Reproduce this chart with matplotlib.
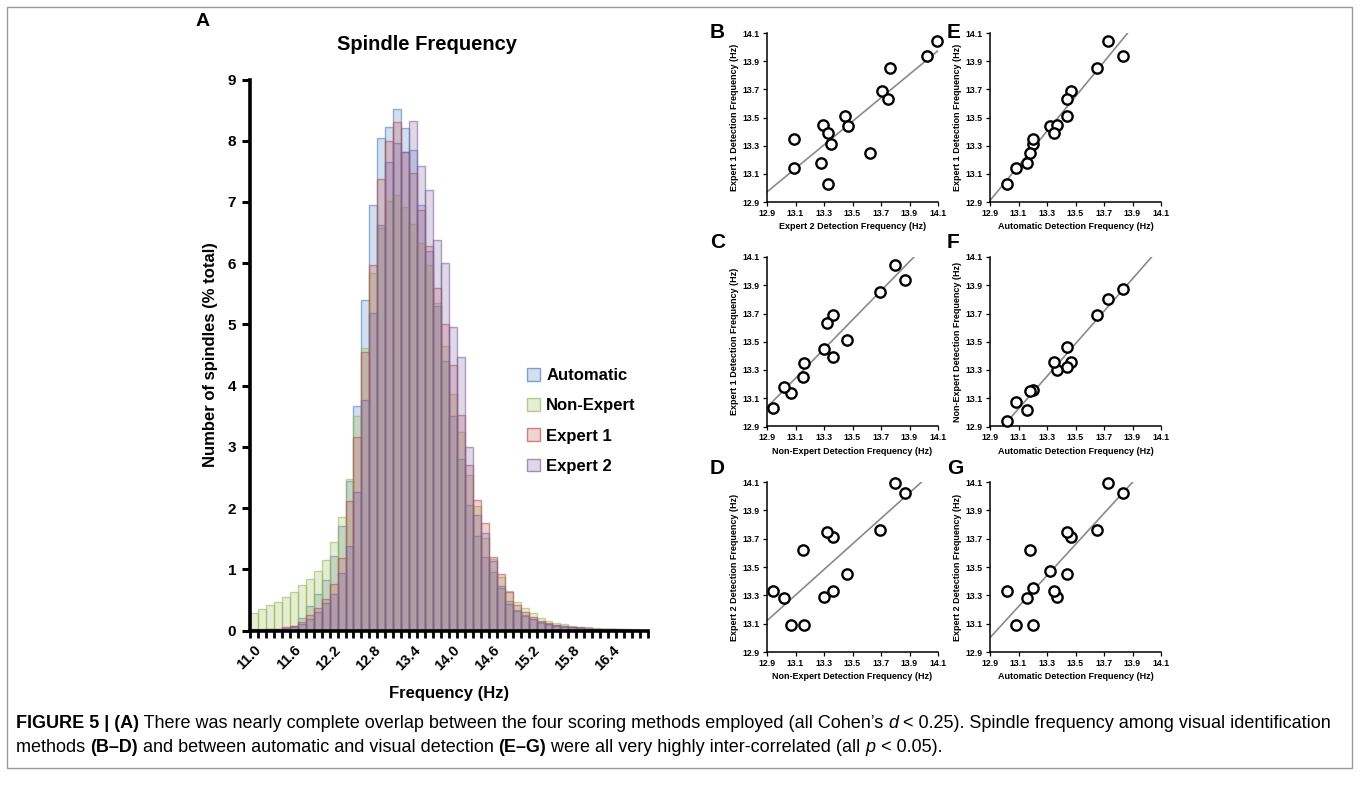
import matplotlib.pyplot as plt
from matplotlib.colors import to_rgba
from matplotlib.patches import Patch, Rectangle
import numpy as np

plt.rcParams['font.family'] = ['Liberation Sans', 'DejaVu Sans']

# ---- panel A: spindle frequency histogram (% of spindles per 0.12 Hz bin) ----
bin_start = 11.0
bin_width = 0.12
hist_labels = ['Automatic', 'Non-Expert', 'Expert 1', 'Expert 2']
hist_automatic = [0.01, 0.01, 0.02, 0.02, 0.03, 0.08, 0.20, 0.40, 0.60, 0.83,
                  1.22, 1.71, 2.44, 3.66, 5.40, 6.95, 8.04, 8.23, 8.52, 8.20,
                  7.85, 6.95, 6.20, 5.30, 4.40, 3.50, 2.80, 2.05, 1.55, 1.20,
                  0.95, 0.70, 0.48, 0.34, 0.25, 0.18, 0.13, 0.10, 0.08, 0.06,
                  0.05, 0.04, 0.03, 0.03, 0.02, 0.02, 0.01, 0.01, 0.01, 0.00]
hist_non_expert = [0.29, 0.35, 0.42, 0.47, 0.54, 0.63, 0.74, 0.84, 0.97, 1.15,
                   1.45, 1.86, 2.48, 3.50, 4.61, 5.84, 6.57, 7.01, 7.12, 6.91,
                   6.64, 6.33, 5.97, 5.35, 4.65, 3.86, 3.25, 2.54, 2.03, 1.51,
                   1.17, 0.87, 0.65, 0.47, 0.36, 0.28, 0.21, 0.16, 0.12, 0.10,
                   0.08, 0.06, 0.05, 0.04, 0.03, 0.03, 0.02, 0.02, 0.01, 0.01]
hist_expert1 = [0.02, 0.02, 0.03, 0.03, 0.05, 0.08, 0.14, 0.25, 0.36, 0.52,
                0.76, 1.18, 2.11, 3.16, 4.55, 5.97, 7.37, 8.00, 8.31, 7.82,
                7.47, 6.87, 6.28, 5.59, 5.00, 4.34, 3.52, 2.70, 2.13, 1.75,
                1.20, 0.93, 0.63, 0.42, 0.30, 0.22, 0.16, 0.12, 0.09, 0.07,
                0.05, 0.04, 0.03, 0.03, 0.02, 0.02, 0.01, 0.01, 0.01, 0.00]
hist_expert2 = [0.01, 0.01, 0.02, 0.03, 0.04, 0.06, 0.10, 0.18, 0.30, 0.45,
                0.60, 0.94, 1.38, 2.27, 3.77, 5.18, 6.63, 7.66, 7.96, 7.82,
                8.32, 7.59, 7.19, 6.38, 6.01, 4.95, 4.47, 2.99, 1.89, 1.60,
                1.14, 0.73, 0.44, 0.32, 0.24, 0.18, 0.14, 0.11, 0.09, 0.07,
                0.06, 0.05, 0.04, 0.03, 0.03, 0.02, 0.02, 0.01, 0.01, 0.00]
hist_colors = ['#4F81BD', '#9BBB59', '#C0504D', '#8064A2']

# ---- panels B-G: mean spindle frequency per recording (Hz) ----
freq_expert1 = [14.04, 13.94, 13.85, 13.69, 13.63, 13.51, 13.44, 13.45, 13.39, 13.31,
                13.35, 13.14, 13.18, 13.03, 13.25]
freq_expert2 = [14.09, 14.02, 13.76, 13.71, 13.75, 13.45, 13.47, 13.29, 13.33, 13.35,
                13.09, 13.09, 13.28, 13.33, 13.62]
freq_non_expert = [13.80, 13.87, 13.69, 13.36, 13.32, 13.46, np.nan, 13.30, 13.36, np.nan,
                   13.16, 13.07, 13.02, 12.94, 13.15]
freq_automatic = [13.73, 13.83, 13.65, 13.47, 13.44, 13.44, 13.32, 13.37, 13.35, 13.20,
                  13.20, 13.08, 13.16, 13.02, 13.18]
scatter_ticks = [12.9, 13.1, 13.3, 13.5, 13.7, 13.9, 14.1]

W, H = 1360, 793
fig = plt.figure(figsize=(W / 100, H / 100), dpi=100)


def px_box(x0, y0, x1, y1):
    # pixel box (top-left origin) -> figure fraction rect
    return [x0 / W, 1 - y1 / H, (x1 - x0) / W, (y1 - y0) / H]


# ---------------- histogram ----------------
ax = fig.add_axes(px_box(250, 79.5, 648, 630.5))
n_bins = len(hist_automatic)
centers = bin_start + bin_width * np.arange(n_bins)
series = [hist_automatic, hist_non_expert, hist_expert1, hist_expert2]
for vals, col in zip(series, hist_colors):
    ax.bar(centers, vals, width=bin_width, align='center',
           facecolor=to_rgba(col, 0.25), edgecolor=to_rgba(col, 0.6), linewidth=1.0)

ax.set_xlim(bin_start - bin_width / 2, bin_start - bin_width / 2 + n_bins * bin_width)
ax.set_ylim(0, 9)
for s in ['top', 'right']:
    ax.spines[s].set_visible(False)
for s in ['left', 'bottom']:
    ax.spines[s].set_linewidth(2.6)
ax.set_yticks(range(10))
ax.set_yticklabels([str(v) for v in range(10)], fontsize=11, fontweight='bold')
ax.tick_params(axis='y', direction='out', length=6, width=2.2, pad=4)
label_idx = np.arange(0, n_bins, 5)
ax.set_xticks(centers[label_idx])
ax.set_xticklabels([f'{bin_start + bin_width * i:.1f}' for i in label_idx],
                   rotation=45, ha='right', rotation_mode='anchor',
                   fontsize=10.5, fontweight='bold')
ax.tick_params(axis='x', which='major', length=0, pad=9)
ax.set_xticks(bin_start - bin_width / 2 + bin_width * np.arange(n_bins + 1), minor=True)
ax.tick_params(axis='x', which='minor', direction='out', length=5, width=2.0)
ax.set_ylabel('Number of spindles (% total)', fontsize=12, fontweight='bold')
ax.yaxis.set_label_coords((218 - 250) / 398, 0.5)
ax.set_xlabel('Frequency (Hz)', fontsize=12, fontweight='bold')
ax.xaxis.set_label_coords(0.5, -(686 - 630.5) / 551)

fig.text(427 / W, 1 - 45 / H, 'Spindle Frequency', fontsize=14.5, fontweight='bold',
         ha='center', va='center')
fig.text(196 / W, 1 - 22 / H, 'A', fontsize=14, fontweight='bold', ha='left', va='center')

handles = [Patch(facecolor=to_rgba(c, 0.25), edgecolor=to_rgba(c, 0.7), linewidth=1.0)
           for c in hist_colors]
fig.legend(handles, hist_labels, loc='upper left', bbox_to_anchor=(527 / W, 1 - 368 / H),
           frameon=False, prop={'weight': 'bold', 'size': 12}, handlelength=0.8,
           handleheight=0.8, handletextpad=0.35, labelspacing=0.9,
           borderpad=0, borderaxespad=0)

# ---------------- scatter panels ----------------
lab_e1 = 'Expert 1 Detection Frequency (Hz)'
lab_e2 = 'Expert 2 Detection Frequency (Hz)'
lab_ne = 'Non-Expert Detection Frequency (Hz)'
lab_au = 'Automatic Detection Frequency (Hz)'
panels = [
    ('B', freq_expert2, freq_expert1, lab_e2, lab_e1, 0, 0),
    ('C', freq_non_expert, freq_expert1, lab_ne, lab_e1, 1, 0),
    ('D', freq_non_expert, freq_expert2, lab_ne, lab_e2, 2, 0),
    ('E', freq_automatic, freq_expert1, lab_au, lab_e1, 0, 1),
    ('F', freq_automatic, freq_non_expert, lab_au, lab_ne, 1, 1),
    ('G', freq_automatic, freq_expert2, lab_au, lab_e2, 2, 1),
]
col_x = [767, 990]
letter_x = [710, 947]
row_y = [(33, 202), (257, 426.5), (482, 652)]
letter_dy = [0, -14, -14]
for letter, xv, yv, xlab, ylab, r, c in panels:
    x0 = col_x[c]
    y0, y1 = row_y[r]
    sa = fig.add_axes(px_box(x0, y0, x0 + 171, y1))
    xv = np.asarray(xv)
    yv = np.asarray(yv)
    ok = ~np.isnan(xv) & ~np.isnan(yv)
    slope, icpt = np.polyfit(xv[ok], yv[ok], 1)
    xs = np.array([12.9, 14.1])
    sa.plot(xs, slope * xs + icpt, color='#8a8a8a', linewidth=1.2, zorder=2)
    sa.scatter(xv[ok], yv[ok], s=55, facecolor='white', edgecolor='black',
               linewidths=1.7, zorder=3, clip_on=False)
    sa.set_xlim(12.9, 14.1)
    sa.set_ylim(12.9, 14.1)
    sa.set_xticks(scatter_ticks)
    sa.set_yticks(scatter_ticks)
    sa.set_xticklabels([f'{t:.1f}' for t in scatter_ticks], fontsize=6.3, fontweight='bold')
    sa.set_yticklabels([f'{t:.1f}' for t in scatter_ticks], fontsize=6.3, fontweight='bold')
    sa.tick_params(direction='out', length=3, width=0.9, pad=2)
    for s in ['top', 'right']:
        sa.spines[s].set_visible(False)
    for s in ['left', 'bottom']:
        sa.spines[s].set_linewidth(1.1)
    sa.set_xlabel(xlab, fontsize=6.5, fontweight='bold', labelpad=3)
    sa.set_ylabel(ylab, fontsize=6.5, fontweight='bold', labelpad=3)
    fig.text(letter_x[c] / W, 1 - (y0 + letter_dy[r]) / H, letter, fontsize=15,
             fontweight='bold', ha='left', va='center')

# ---------------- caption ----------------
renderer = fig.canvas.get_renderer()


def draw_runs(runs, x_px, y_px, size):
    x = x_px / W
    for txt, weight, style in runs:
        t = fig.text(x, 1 - y_px / H, txt, fontsize=size, fontweight=weight,
                     fontstyle=style, ha='left', va='center')
        x += t.get_window_extent(renderer=renderer).width / W


cap_size = 13
draw_runs([('FIGURE 5 | (A)', 'bold', 'normal'),
           (' There was nearly complete overlap between the four scoring methods employed '
            '(all Cohen\u2019s ', 'normal', 'normal'),
           ('d', 'normal', 'italic'),
           (' < 0.25). Spindle frequency among visual identification', 'normal', 'normal')],
          16, 723, cap_size)
draw_runs([('methods ', 'normal', 'normal'),
           ('(B\u2013D)', 'bold', 'normal'),
           (' and between automatic and visual detection ', 'normal', 'normal'),
           ('(E\u2013G)', 'bold', 'normal'),
           (' were all very highly inter-correlated (all ', 'normal', 'normal'),
           ('p', 'normal', 'italic'),
           (' < 0.05).', 'normal', 'normal')],
          16, 747, cap_size)

fig.add_artist(Rectangle((7 / W, 1 - 768 / H), (1352 - 7) / W, (768 - 7) / H,
                         transform=fig.transFigure, fill=False,
                         edgecolor='#9a9a9a', linewidth=1.0))

fig.savefig('out.png', dpi=100)
